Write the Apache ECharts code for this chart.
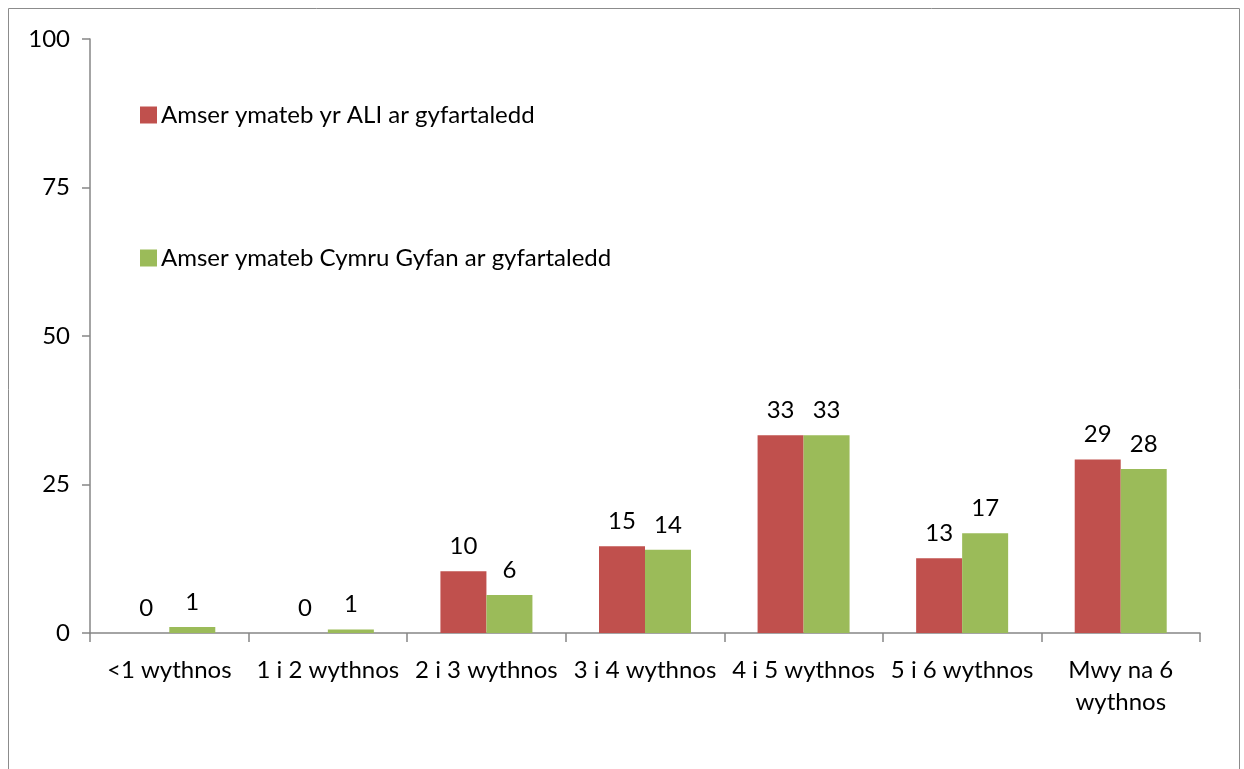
<!DOCTYPE html>
<html>
<head>
<meta charset="utf-8">
<script src="https://cdn.jsdelivr.net/npm/echarts@6/dist/echarts.min.js"></script>
<style>
  html, body { margin: 0; padding: 0; background: #fff; }
  #chart { width: 1244px; height: 769px; }
</style>
</head>
<body>
<div id="chart"></div>
<script>
const categories = ['<1 wythnos', '1 i 2 wythnos', '2 i 3 wythnos', '3 i 4 wythnos', '4 i 5 wythnos', '5 i 6 wythnos', 'Mwy na 6\nwythnos'];
const aliValues = [0, 0, 10.4, 14.6, 33.3, 12.6, 29.2];
const walesValues = [1.0, 0.6, 6.4, 14.0, 33.3, 16.8, 27.6];
const seriesNames = ['Amser ymateb yr ALI ar gyfartaledd', 'Amser ymateb Cymru Gyfan ar gyfartaledd'];
const yTicks = [0, 25, 50, 75, 100];

const chart = echarts.init(document.getElementById('chart'));
const font = 'Lato, "Open Sans", sans-serif';

const labelOpt = {
  show: true,
  position: 'top',
  distance: 13,
  color: '#000',
  fontSize: 24,
  fontFamily: font,
  formatter: p => Math.round(p.value)
};

chart.setOption({
  animation: false,
  textStyle: { fontFamily: font },
  graphic: [{
    type: 'rect',
    shape: { x: 8.5, y: 8.5, width: 1231, height: 780 },
    style: { fill: 'none', stroke: '#8c8c8c', lineWidth: 1 },
    silent: true
  }],
  legend: {
    orient: 'vertical',
    left: 135,
    top: 98,
    itemWidth: 17,
    itemHeight: 17,
    itemGap: 119,
    icon: 'rect',
    textStyle: { fontSize: 24, color: '#000', fontFamily: font, padding: [0, 0, 0, -1] },
    data: seriesNames
  },
  grid: { left: 90, right: 44, top: 39, bottom: 136 },
  xAxis: {
    type: 'category',
    data: categories,
    axisLine: { lineStyle: { color: '#868686', width: 1.5 } },
    axisTick: { show: true, length: 9, lineStyle: { color: '#868686', width: 1.5 } },
    axisLabel: { fontSize: 24, color: '#000', fontFamily: font, margin: 21, lineHeight: 32, interval: 0 }
  },
  yAxis: {
    type: 'value',
    min: 0,
    max: 100,
    interval: 25,
    splitLine: { show: false },
    axisLine: { show: true, lineStyle: { color: '#868686', width: 1.5 } },
    axisTick: { show: true, length: 8, lineStyle: { color: '#868686', width: 1.5 } },
    axisLabel: {
      fontSize: 24, color: '#000', fontFamily: font, margin: 20,
      formatter: v => yTicks.includes(v) ? String(v) : ''
    }
  },
  series: [
    {
      name: seriesNames[0],
      type: 'bar',
      data: aliValues,
      barWidth: 46,
      barGap: '0%',
      itemStyle: { color: '#C0504D' },
      label: labelOpt
    },
    {
      name: seriesNames[1],
      type: 'bar',
      data: walesValues,
      barWidth: 46,
      barGap: '0%',
      itemStyle: { color: '#9BBB59' },
      label: labelOpt
    }
  ]
});
</script>
</body>
</html>
